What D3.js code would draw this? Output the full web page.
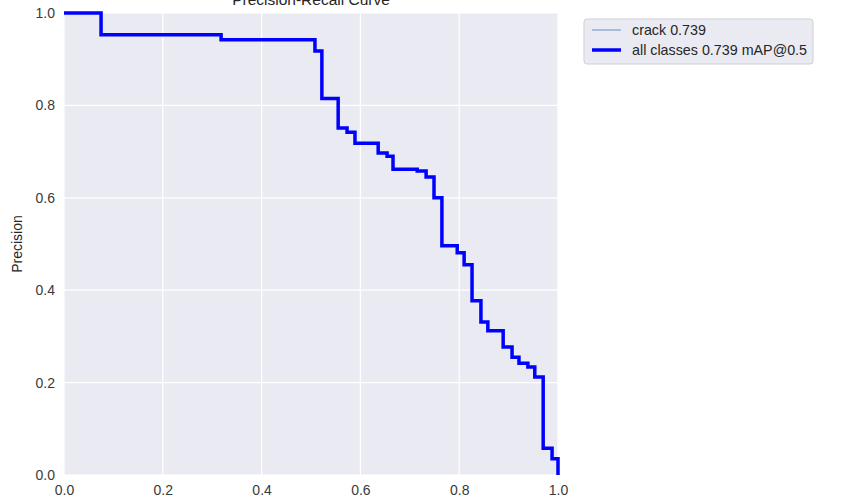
<!DOCTYPE html>
<html>
<head>
<meta charset="utf-8">
<script src="https://cdn.jsdelivr.net/npm/d3@7"></script>
<style>
  html, body { margin: 0; padding: 0; background: #fff; }
  svg { display: block; font-family: "Liberation Sans", Arial, sans-serif; }
</style>
</head>
<body>
<svg id="chart" width="841" height="502"></svg>
<script>
// recall breakpoints and precision held until the next breakpoint
const recall = [0, 0.075, 0.318, 0.508, 0.522, 0.555, 0.573, 0.589, 0.636, 0.654, 0.666,
  0.715, 0.733, 0.749, 0.765, 0.796, 0.810, 0.826, 0.844, 0.858, 0.889, 0.907, 0.921,
  0.939, 0.953, 0.970, 0.988, 1.0];
const precision = [1.0, 0.953, 0.942, 0.918, 0.815, 0.751, 0.742, 0.718, 0.697, 0.690, 0.662,
  0.658, 0.645, 0.600, 0.496, 0.481, 0.455, 0.377, 0.331, 0.312, 0.277, 0.255, 0.242,
  0.234, 0.212, 0.058, 0.035, 0.0];
const ticks = [0, 0.2, 0.4, 0.6, 0.8, 1.0];
const legendLabels = ['crack 0.739', 'all classes 0.739 mAP@0.5'];

const svg = d3.select('#chart');
const m = { left: 64, right: 558, top: 13, bottom: 475 };

const x = d3.scaleLinear().domain([0, 1]).range([m.left, m.right]);
const y = d3.scaleLinear().domain([0, 1]).range([m.bottom, m.top]);

// axes background
svg.append('rect')
  .attr('x', m.left).attr('y', m.top)
  .attr('width', m.right - m.left).attr('height', m.bottom - m.top)
  .attr('fill', '#eaeaf2');

// grid
const grid = svg.append('g');
grid.selectAll('.gx').data(ticks).join('line')
  .attr('x1', d => x(d)).attr('x2', d => x(d))
  .attr('y1', m.top).attr('y2', m.bottom)
  .attr('stroke', '#fff').attr('stroke-width', 1.2);
grid.selectAll('.gy').data(ticks).join('line')
  .attr('y1', d => y(d)).attr('y2', d => y(d))
  .attr('x1', m.left).attr('x2', m.right)
  .attr('stroke', '#fff').attr('stroke-width', 1.2);

// axes (labels only, seaborn style)
const xAxis = svg.append('g')
  .attr('transform', `translate(0,${m.bottom})`)
  .call(d3.axisBottom(x).tickValues(ticks).tickFormat(d3.format('.1f')).tickSize(0).tickPadding(10));
const yAxis = svg.append('g')
  .attr('transform', `translate(${m.left},0)`)
  .call(d3.axisLeft(y).tickValues(ticks).tickFormat(d3.format('.1f')).tickSize(0).tickPadding(9));
[xAxis, yAxis].forEach(a => {
  a.select('.domain').remove();
  a.selectAll('text').attr('fill', '#3a3a3a').style('font-size', '14px')
    .style('font-family', '"Liberation Sans", Arial, sans-serif');
});

const pts = recall.map((r, i) => [r, precision[i]]);
const line = d3.line().x(d => x(d[0])).y(d => y(d[1])).curve(d3.curveStepAfter);

// crack class curve (thin) and all-classes curve (thick)
svg.append('path').datum(pts).attr('d', line)
  .attr('fill', 'none').attr('stroke', '#7c9fd0').attr('stroke-width', 1);
svg.append('path').datum(pts).attr('d', line)
  .attr('fill', 'none').attr('stroke', '#0000ff').attr('stroke-width', 3.5);

// title (sits at the top edge as in the reference)
svg.append('text')
  .attr('x', (m.left + m.right) / 2).attr('y', 5)
  .attr('text-anchor', 'middle')
  .attr('fill', '#262626')
  .style('font-size', '15.5px')
  .text('Precision-Recall Curve');

// y label
svg.append('text')
  .attr('transform', `translate(22,${(m.top + m.bottom) / 2}) rotate(-90)`)
  .attr('text-anchor', 'middle')
  .attr('fill', '#262626')
  .style('font-size', '14px')
  .text('Precision');

// legend
const lg = svg.append('g').attr('transform', 'translate(584,19)');
lg.append('rect')
  .attr('width', 229).attr('height', 45).attr('rx', 3)
  .attr('fill', '#eaeaf2').attr('stroke', '#cfcfd6').attr('stroke-width', 1);
const styles = [{ c: '#7c9fd0', w: 1.2 }, { c: '#0000ff', w: 3.5 }];
legendLabels.forEach((t, i) => {
  const yy = 11 + i * 20;
  lg.append('line')
    .attr('x1', 8).attr('x2', 37).attr('y1', yy).attr('y2', yy)
    .attr('stroke', styles[i].c).attr('stroke-width', styles[i].w);
  lg.append('text')
    .attr('x', 48).attr('y', yy).attr('dy', '0.35em')
    .attr('fill', '#262626')
    .style('font-size', '14.3px')
    .text(t);
});
</script>
</body>
</html>
